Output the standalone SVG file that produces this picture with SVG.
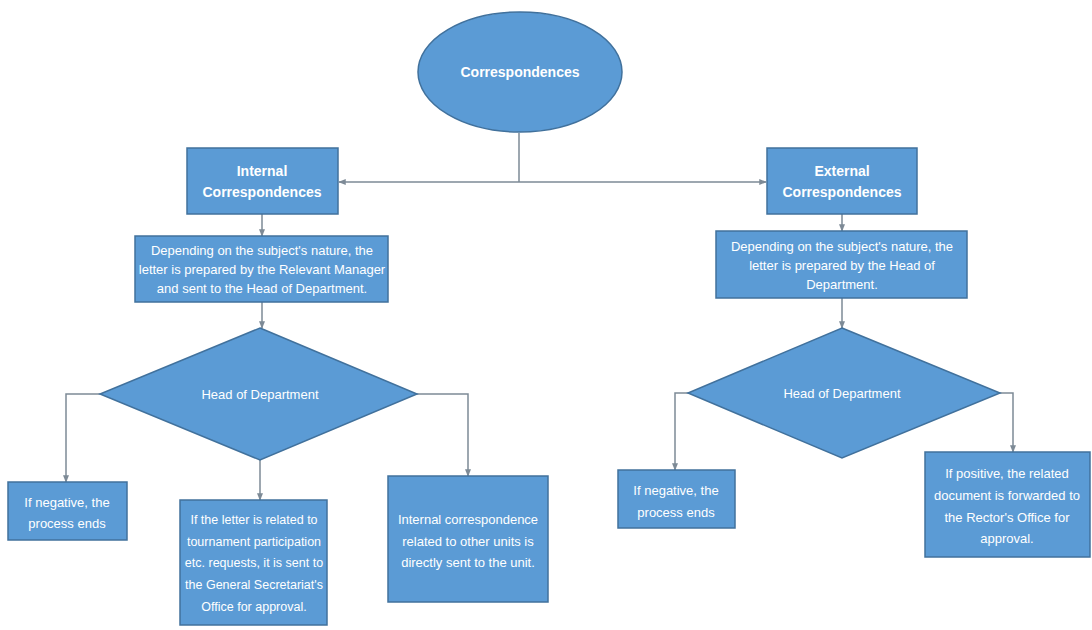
<svg xmlns="http://www.w3.org/2000/svg" width="1092" height="630" viewBox="0 0 1092 630">
<defs>
<style>
.n{fill:#5b9bd5;stroke:#41719c;stroke-width:1.5}
.t{fill:#fff;font-family:"Liberation Sans Narrow","Liberation Sans",Arial,sans-serif;font-size:13px;text-anchor:middle;dominant-baseline:central}
.s{font-size:12.5px}
.b{font-weight:bold;font-size:14px}
.c{fill:none;stroke:#7d8a96;stroke-width:1.5}
</style>
<marker id="a" viewBox="0 0 10 10" refX="9" refY="5" markerWidth="5" markerHeight="5" orient="auto"><path d="M0,1 L10,5 L0,9 z" fill="#7d8a96"/></marker>
</defs>
<rect width="1092" height="630" fill="#fff"/>
<g id="connectors">
<path class="c" d="M519,133 V182"/>
<path class="c" d="M519,182 H339" marker-end="url(#a)"/>
<path class="c" d="M519,182 H766" marker-end="url(#a)"/>
<path class="c" d="M262,214 V236" marker-end="url(#a)"/>
<path class="c" d="M842,214 V231" marker-end="url(#a)"/>
<path class="c" d="M262,302 V328" marker-end="url(#a)"/>
<path class="c" d="M842,298 V328" marker-end="url(#a)"/>
<path class="c" d="M100,394 H66 V482" marker-end="url(#a)"/>
<path class="c" d="M260,460 V500" marker-end="url(#a)"/>
<path class="c" d="M417,394 H468 V476" marker-end="url(#a)"/>
<path class="c" d="M688,393 H675 V470" marker-end="url(#a)"/>
<path class="c" d="M1000,393 H1013 V452" marker-end="url(#a)"/>
</g>
<g id="root"><ellipse class="n" cx="520" cy="72" rx="102" ry="60"/><text class="t b" x="520" y="72">Correspondences</text></g>
<g id="internal"><rect class="n" x="187" y="148" width="151" height="66"/><text class="t b" x="262" y="171">Internal</text><text class="t b" x="262" y="192">Correspondences</text></g>
<g id="external"><rect class="n" x="767" y="148" width="150" height="66"/><text class="t b" x="842" y="171">External</text><text class="t b" x="842" y="192">Correspondences</text></g>
<g id="int-prep"><rect class="n" x="135" y="236" width="253" height="66"/><text class="t" x="262" y="250">Depending on the subject's nature, the</text><text class="t" x="262" y="269">letter is prepared by the Relevant Manager</text><text class="t" x="262" y="288">and sent to the Head of Department.</text></g>
<g id="ext-prep"><rect class="n" x="716" y="231" width="251" height="67"/><text class="t" x="842" y="246">Depending on the subject's nature, the</text><text class="t" x="842" y="265">letter is prepared by the Head of</text><text class="t" x="842" y="284">Department.</text></g>
<g id="int-head"><polygon class="n" points="260,328 417,394 260,460 100,394"/><text class="t" x="260" y="394">Head of Department</text></g>
<g id="ext-head"><polygon class="n" points="842,328 1000,393 842,458 688,393"/><text class="t" x="842" y="393">Head of Department</text></g>
<g id="int-neg"><rect class="n" x="8" y="482" width="119" height="58"/><text class="t" x="67" y="502">If negative, the</text><text class="t" x="67" y="523">process ends</text></g>
<g id="int-gen"><rect class="n" x="180" y="500" width="147" height="125"/><text class="t s" x="254" y="520">If the letter is related to</text><text class="t s" x="254" y="542">tournament participation</text><text class="t s" x="254" y="563">etc. requests, it is sent to</text><text class="t s" x="254" y="585">the General Secretariat's</text><text class="t s" x="254" y="607">Office for approval.</text></g>
<g id="int-unit"><rect class="n" x="388" y="476" width="160" height="126"/><text class="t" x="468" y="519">Internal correspondence</text><text class="t" x="468" y="541">related to other units is</text><text class="t" x="468" y="562">directly sent to the unit.</text></g>
<g id="ext-neg"><rect class="n" x="618" y="470" width="117" height="58"/><text class="t" x="676" y="490">If negative, the</text><text class="t" x="676" y="512">process ends</text></g>
<g id="ext-pos"><rect class="n" x="925" y="452" width="165" height="105"/><text class="t" x="1007" y="473">If positive, the related</text><text class="t" x="1007" y="495">document is forwarded to</text><text class="t" x="1007" y="517">the Rector's Office for</text><text class="t" x="1007" y="538">approval.</text></g>
</svg>
